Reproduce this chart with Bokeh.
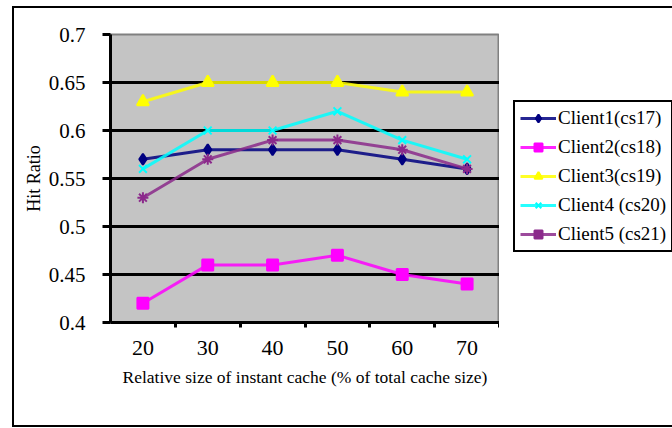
from bokeh.plotting import figure
from bokeh.layouts import row
from bokeh.models import Range1d, FixedTicker, CustomJSTickFormatter, Legend, LegendItem
from bokeh.embed import file_html
from bokeh.resources import INLINE

cache_sizes = [20, 30, 40, 50, 60, 70]
client1 = [0.57, 0.58, 0.58, 0.58, 0.57, 0.56]
client2 = [0.42, 0.46, 0.46, 0.47, 0.45, 0.44]
client3 = [0.63, 0.65, 0.65, 0.65, 0.64, 0.64]
client4 = [0.56, 0.60, 0.60, 0.62, 0.59, 0.57]
client5 = [0.53, 0.57, 0.59, 0.59, 0.58, 0.56]
series_names = ["Client1(cs17)", "Client2(cs18)", "Client3(cs19)", "Client4 (cs20)", "Client5 (cs21)"]
y_ticks = [0.4, 0.45, 0.5, 0.55, 0.6, 0.65, 0.7]
x_boundaries = [25, 35, 45, 55, 65, 75]
grid_levels = [0.45, 0.5, 0.55, 0.6, 0.65]

FONT = "Liberation Serif"

p = figure(width=485, height=417, output_backend="svg", toolbar_location=None,
           x_range=Range1d(15, 75), y_range=Range1d(0.4, 0.7),
           min_border_left=96, min_border_right=0, min_border_top=26, min_border_bottom=103)
p.background_fill_color = "#c4c4c4"
p.border_fill_color = "white"
p.outline_line_color = "#808080"
p.outline_line_width = 2

# axes
xa = p.xaxis[0]
xa.ticker = FixedTicker(ticks=cache_sizes, minor_ticks=x_boundaries)
xa.axis_line_color = "black"
xa.axis_line_width = 3
xa.major_tick_line_color = None
xa.major_tick_out = 6
xa.major_tick_in = 0
xa.minor_tick_line_color = "black"
xa.minor_tick_line_width = 3
xa.minor_tick_out = 5
xa.minor_tick_in = 0
xa.major_label_text_font = FONT
xa.major_label_text_font_size = "22px"
xa.major_label_text_color = "black"
xa.major_label_standoff = 12
xa.axis_label = "Relative size of instant cache (% of total cache size)"
xa.axis_label_text_font = FONT
xa.axis_label_text_font_size = "17.5px"
xa.axis_label_text_font_style = "normal"
xa.axis_label_text_color = "black"
xa.axis_label_standoff = 9

ya = p.yaxis[0]
ya.ticker = FixedTicker(ticks=y_ticks)
ya.formatter = CustomJSTickFormatter(code="var s = tick.toFixed(2); return s.endsWith('0') ? s.slice(0, -1) : s;")
ya.axis_line_color = "black"
ya.axis_line_width = 3
ya.major_tick_line_color = "black"
ya.major_tick_line_width = 3
ya.major_tick_out = 8
ya.major_tick_in = 0
ya.minor_tick_line_color = None
ya.major_label_text_font = FONT
ya.major_label_text_font_size = "21px"
ya.major_label_text_color = "black"
ya.major_label_standoff = 17
ya.axis_label = "Hit Ratio"
ya.axis_label_text_font = FONT
ya.axis_label_text_font_size = "18px"
ya.axis_label_text_font_style = "normal"
ya.axis_label_text_color = "black"
ya.axis_label_standoff = 2

p.xgrid.grid_line_color = None
p.ygrid.ticker = FixedTicker(ticks=grid_levels)
p.ygrid.grid_line_color = "black"
p.ygrid.grid_line_width = 3

colors = ["#000080", "#ff00ff", "#ffff00", "#00ffff", "#8b2a8b"]
markers = ["diamond", "square", "triangle", "x", "asterisk"]
legend_markers = ["diamond", "square", "triangle", "x", "square"]
msizes = [11, 11, 12, 11, 11]
data = [client1, client2, client3, client4, client5]

# legend panel as its own figure (keeps legend unclipped); its ranges keep the
# proxy series out of view so only the legend swatches show
lg = figure(width=173, height=417, output_backend="svg", toolbar_location=None,
            x_axis_type=None, y_axis_type=None,
            x_range=Range1d(0, 1), y_range=Range1d(0, 1),
            min_border_left=0, min_border_right=0, min_border_top=0, min_border_bottom=0)
lg.outline_line_color = None
lg.background_fill_color = "white"
lg.border_fill_color = "white"
lg.xgrid.visible = False
lg.ygrid.visible = False

items = []
for name, vals, c, m, lm, ms in zip(series_names, data, colors, markers, legend_markers, msizes):
    p.line(cache_sizes, vals, line_color=c, line_width=3, line_alpha=0.85)
    p.scatter(cache_sizes, vals, marker=m, size=ms, fill_color=c, line_color=c, line_width=2)
    lr = lg.line(cache_sizes, vals, line_color=c, line_width=3, line_alpha=0.85)
    sr = lg.scatter(cache_sizes, vals, marker=lm, size=ms, fill_color=c, line_color=c, line_width=2)
    items.append(LegendItem(label=name, renderers=[lr, sr]))

legend = Legend(items=items, location=(14, 70), orientation="vertical")
legend.label_text_font = FONT
legend.label_text_font_size = "19px"
legend.label_text_color = "black"
legend.glyph_width = 36
legend.glyph_height = 20
legend.label_height = 20
legend.label_standoff = 2
legend.spacing = 7
legend.padding = 5
legend.margin = 0
legend.border_line_color = "black"
legend.border_line_width = 2
legend.border_line_alpha = 1
legend.background_fill_color = "white"
legend.background_fill_alpha = 1
lg.add_layout(legend, "center")

layout = row(p, lg, margin=(8, 0, 0, 14), spacing=0,
             styles={"box-shadow": "0 0 0 2px black"})

open("out.html", "w").write(file_html(layout, INLINE))
